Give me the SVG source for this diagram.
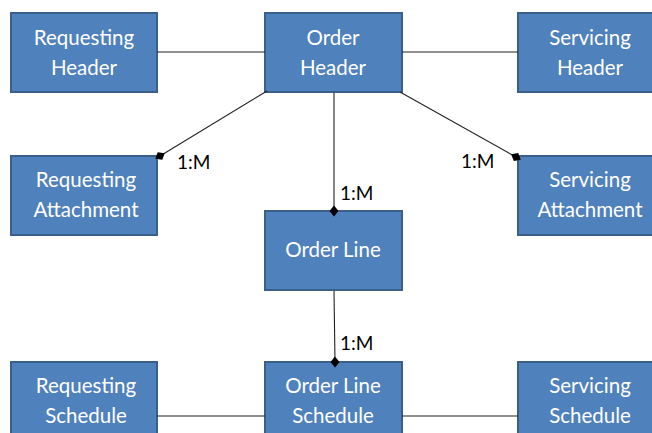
<svg xmlns="http://www.w3.org/2000/svg" width="652" height="433" viewBox="0 0 652 433">
<style>
.box{fill:#4F81BD;stroke:#3A5F8B;stroke-width:2}
.t{font-family:Lato,"Liberation Sans",sans-serif;font-size:20.5px;fill:#fff;text-anchor:middle}
.c{stroke:#222;stroke-width:1.1;fill:none}
.l{font-family:Lato,"Liberation Sans",sans-serif;font-size:19px;fill:#000}
</style>
<defs>
<marker id="dia" viewBox="0 0 12 12" refX="6" refY="6" markerWidth="12" markerHeight="12" markerUnits="userSpaceOnUse" orient="auto">
<path d="M0.5,6 L6,1.5 L11.5,6 L6,10.5 Z" fill="#000"/>
</marker>
</defs>
<rect width="652" height="433" fill="#fff"/>
<g id="requesting-header"><rect class="box" x="11" y="13" width="146" height="79"/><text class="t" x="84" y="45">Requesting</text><text class="t" x="84" y="75">Header</text></g>
<g id="order-header"><rect class="box" x="265" y="13" width="137" height="79"/><text class="t" x="333" y="45">Order</text><text class="t" x="333" y="75">Header</text></g>
<g id="servicing-header"><rect class="box" x="518" y="13" width="140" height="79"/><text class="t" x="590" y="45">Servicing</text><text class="t" x="590" y="75">Header</text></g>
<g id="requesting-attachment"><rect class="box" x="11" y="156" width="146" height="79"/><text class="t" x="86" y="187">Requesting</text><text class="t" x="86" y="217">Attachment</text></g>
<g id="order-line"><rect class="box" x="265" y="211" width="137" height="79"/><text class="t" x="333" y="257">Order Line</text></g>
<g id="servicing-attachment"><rect class="box" x="518" y="156" width="140" height="79"/><text class="t" x="590" y="187">Servicing</text><text class="t" x="590" y="217">Attachment</text></g>
<g id="requesting-schedule"><rect class="box" x="11" y="362" width="146" height="80"/><text class="t" x="86" y="393">Requesting</text><text class="t" x="86" y="423">Schedule</text></g>
<g id="order-line-schedule"><rect class="box" x="265" y="362" width="137" height="80"/><text class="t" x="333" y="393">Order Line</text><text class="t" x="333" y="423">Schedule</text></g>
<g id="servicing-schedule"><rect class="box" x="518" y="362" width="140" height="80"/><text class="t" x="590" y="393">Servicing</text><text class="t" x="590" y="423">Schedule</text></g>
<g id="connectors">
<line class="c" x1="267" y1="91" x2="160" y2="156" marker-end="url(#dia)"/>
<line class="c" x1="400" y1="92" x2="516" y2="157" marker-end="url(#dia)"/>
<line class="c" x1="157" y1="52" x2="265" y2="52"/>
<line class="c" x1="402" y1="52" x2="518" y2="52"/>
<line class="c" x1="334" y1="93" x2="334" y2="211" marker-end="url(#dia)"/>
<line class="c" x1="334" y1="291" x2="335" y2="362" marker-end="url(#dia)"/>
<line class="c" x1="157" y1="416" x2="265" y2="416"/>
<line class="c" x1="402" y1="416" x2="518" y2="416"/>
</g>
<g id="labels">
<text class="l" x="177" y="169">1:M</text>
<text class="l" x="461" y="168">1:M</text>
<text class="l" x="340" y="200">1:M</text>
<text class="l" x="340" y="350">1:M</text>
</g>
</svg>
